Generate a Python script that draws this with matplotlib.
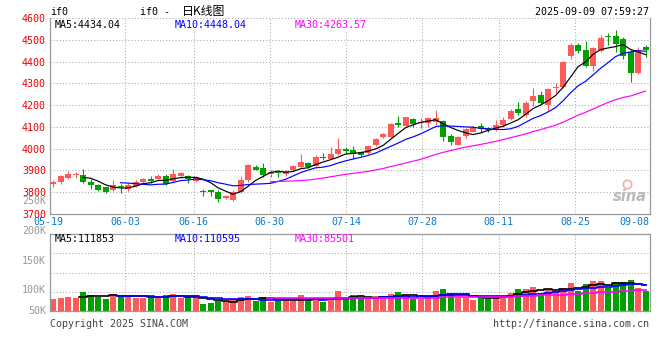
import numpy as np
import pandas as pd
import matplotlib
matplotlib.use("Agg")
import matplotlib.pyplot as plt
import matplotlib.transforms as mtransforms

# ---------------- data ----------------
opens = [3838, 3845, 3866, 3877, 3880, 3849, 3832, 3822, 3812, 3830,
         3815, 3831, 3847, 3861, 3862, 3876, 3850, 3873, 3875, 3850,
         3806, 3810, 3800, 3772, 3766, 3801, 3855, 3918, 3913, 3884,
         3895, 3886, 3900, 3915, 3936, 3922, 3964, 3954, 3977, 3997,
         3994, 3984, 3980, 4018, 4053, 4053, 4117, 4103, 4137, 4117,
         4118, 4122, 4129, 4060, 4018, 4060, 4079, 4104, 4094, 4087,
         4110, 4138, 4183, 4156, 4220, 4245, 4202, 4278, 4283, 4424,
         4476, 4454, 4381, 4447, 4518, 4518, 4504, 4446, 4347, 4468]
highs = [3857, 3878, 3898, 3895, 3908, 3860, 3838, 3823, 3856, 3838,
         3841, 3856, 3867, 3876, 3884, 3884, 3906, 3895, 3877, 3876,
         3813, 3812, 3811, 3789, 3811, 3876, 3929, 3926, 3935, 3900,
         3898, 3902, 3925, 3976, 3941, 3971, 3982, 4006, 4050, 4007,
         4013, 3991, 4017, 4051, 4074, 4117, 4150, 4147, 4140, 4140,
         4145, 4178, 4132, 4068, 4058, 4094, 4105, 4117, 4102, 4132,
         4144, 4181, 4216, 4219, 4280, 4265, 4278, 4304, 4402, 4484,
         4486, 4496, 4469, 4523, 4530, 4545, 4515, 4454, 4469, 4477]
lows = [3826, 3840, 3862, 3866, 3842, 3816, 3806, 3796, 3804, 3796,
        3808, 3826, 3838, 3841, 3857, 3834, 3845, 3864, 3841, 3845,
        3785, 3785, 3753, 3768, 3762, 3796, 3849, 3900, 3872, 3872,
        3869, 3875, 3896, 3910, 3910, 3918, 3948, 3951, 3971, 3982,
        3953, 3967, 3975, 4013, 4048, 4048, 4098, 4098, 4098, 4094,
        4102, 4109, 4037, 4017, 4016, 4048, 4078, 4076, 4079, 4083,
        4102, 4132, 4155, 4144, 4197, 4206, 4175, 4258, 4278, 4411,
        4438, 4377, 4358, 4446, 4477, 4446, 4411, 4308, 4343, 4423]
closes = [3849, 3875, 3886, 3884, 3845, 3832, 3809, 3801, 3833, 3823,
          3833, 3849, 3859, 3853, 3875, 3839, 3882, 3887, 3862, 3871,
          3799, 3803, 3768, 3785, 3800, 3856, 3925, 3904, 3877, 3892,
          3888, 3899, 3921, 3940, 3915, 3960, 3957, 3976, 3997, 3988,
          3976, 3972, 4012, 4047, 4068, 4113, 4110, 4144, 4114, 4124,
          4143, 4140, 4054, 4029, 4055, 4089, 4098, 4091, 4087, 4108,
          4131, 4173, 4166, 4211, 4242, 4212, 4273, 4285, 4400, 4476,
          4451, 4381, 4461, 4511, 4512, 4482, 4427, 4350, 4454, 4452]
volumes = [85900, 87000, 89800, 87000, 98100, 92500, 88600, 85900, 94200, 92500,
           89800, 88100, 87000, 87000, 89800, 92500, 94200, 87000, 91400, 89800,
           77500, 79700, 82500, 80300, 85900, 89800, 91400, 82500, 89800, 81400,
           84200, 82500, 82500, 92500, 82500, 87000, 81400, 88100, 99200, 84200,
           92500, 85900, 85900, 90900, 88100, 94200, 98100, 92500, 85900, 85900,
           89800, 99200, 102500, 92500, 88100, 87000, 84200, 89800, 85900, 91400,
           91400, 95900, 102500, 102500, 105900, 95900, 102500, 99200, 104800, 112500,
           99200, 110900, 115900, 115900, 103600, 114200, 114200, 117500, 104800, 99200]

tick_idx = [0, 10, 19, 29, 39, 49, 59, 69, 79]
tick_labels = ["05-19", "06-03", "06-16", "06-30", "07-14", "07-28",
               "08-11", "08-25", "09-08"]
price_ticks = [3700, 3800, 3900, 4000, 4100, 4200, 4300, 4400, 4500, 4600]
price_labels = [str(p) for p in price_ticks]
vol_ticks = [250000, 200000, 150000, 100000, 50000]
vol_labels = ["250K", "200K", "150K", "100K", "50K"]

# ---------------- style ----------------
RED = "#FF5A5A"
GREEN = "#00A000"
GRID = "#AAAAAA"
FRAME = "#999999"
MONO = "DejaVu Sans Mono"
FS = 7.2
dotted = (0, (1, 2))

W, H = 660, 360
fig = plt.figure(figsize=(6.6, 3.6), dpi=100)


def fx(px):
    return px / W


def fy(py):
    return 1 - py / H


ax = fig.add_axes([fx(50), fy(214), fx(649.5) - fx(50), fy(18.2) - fy(214)])
axv = fig.add_axes([fx(50), fy(311), fx(649.5) - fx(50), fy(234.3) - fy(311)])

x = np.arange(len(closes))
o = np.array(opens, float)
c = np.array(closes, float)
hi = np.array(highs, float)
lo = np.array(lows, float)
up = c >= o
cols = np.where(up, RED, GREEN)

XMIN, XMAX = -0.4, 79.53
# grid positions in sina layout (slightly wider date step than candle step)
grid_pos = [i * 1.0167 - 0.57 for i in tick_idx]

# ---------------- main panel ----------------
ax.set_xlim(XMIN, XMAX)
ax.set_ylim(3700, 4600)
for p in price_ticks[1:-1]:
    ax.axhline(p, color=GRID, lw=0.75, ls=dotted, zorder=0)
ax.axhline(4600, color=GRID, lw=0.75, ls=dotted, zorder=0, clip_on=False)
for gp in grid_pos:
    if XMIN < gp < XMAX:
        ax.axvline(gp, color=GRID, lw=0.75, ls=dotted, zorder=0)

ax.vlines(x, lo, hi, colors=cols, lw=0.8, zorder=2)
body = np.maximum(np.abs(c - o), 4)
ax.bar(x, body, bottom=np.minimum(o, c), width=0.8, color=cols,
       linewidth=0, zorder=3)

cs = pd.Series(c)
ax.plot(x, cs.rolling(5).mean(), color="black", lw=0.85, zorder=4)
ax.plot(x, cs.rolling(10).mean(), color="#0000FF", lw=0.85, zorder=4)
ax.plot(x, cs.rolling(30).mean(), color="#FF00FF", lw=0.85, zorder=4)

ax.set_yticks(price_ticks)
ax.set_yticklabels(price_labels, color="#EE0000", fontfamily=MONO, fontsize=FS)
ax.tick_params(axis="y", length=0, pad=3)
ax.set_xticks([])
for s in ["left", "right", "bottom"]:
    ax.spines[s].set_color(FRAME)
    ax.spines[s].set_linewidth(0.9)
ax.spines["top"].set_visible(False)

trans = mtransforms.blended_transform_factory(ax.transData, ax.transAxes)
yl = -8 / (214 - 18.2)
for gp, lab in zip(grid_pos, tick_labels):
    if gp > XMAX - 1:
        ax.text(XMAX, yl, lab, transform=trans, ha="right", va="center",
                color="#0A78D2", fontfamily=MONO, fontsize=FS, clip_on=False)
    else:
        ax.text(gp, yl, lab, transform=trans, ha="center", va="center",
                color="#0A78D2", fontfamily=MONO, fontsize=FS, clip_on=False)

# watermark
ax.text(0.968, 0.09, "sina", transform=ax.transAxes, ha="center", va="center",
        fontsize=10.5, fontweight="bold", style="italic", color="#B8B8B8",
        zorder=1)
ax.plot([0.963], [0.155], transform=ax.transAxes, marker="o", ms=6,
        mfc="none", mec="#F2B0B0", mew=1.3, zorder=1)

# ---------------- volume panel ----------------
VLO = 65800
VHI = 193700
axv.set_xlim(XMIN, XMAX)
axv.set_ylim(VLO, VHI)
for frac in [0.25, 0.5, 0.75]:
    axv.axhline(VHI - frac * (VHI - VLO), color=GRID, lw=0.75, ls=dotted,
                zorder=0)
for gp in grid_pos:
    if XMIN < gp < XMAX:
        axv.axvline(gp, color=GRID, lw=0.75, ls=dotted, zorder=0)
axv.bar(x, volumes, width=0.8, color=cols, linewidth=0, zorder=2)
vs = pd.Series(np.array(volumes, float))
axv.plot(x, vs.rolling(5).mean(), color="black", lw=1.2, drawstyle="steps-mid",
         zorder=4)
axv.plot(x, vs.rolling(10).mean(), color="#0000FF", lw=1.2,
         drawstyle="steps-mid", zorder=4)
axv.plot(x, vs.rolling(30).mean(), color="#FF00FF", lw=1.2,
         drawstyle="steps-mid", zorder=4)
axv.set_xticks([])
axv.set_yticks([])
for s in ["left", "right", "bottom", "top"]:
    axv.spines[s].set_color(FRAME)
    axv.spines[s].set_linewidth(0.9)
vtrans = mtransforms.blended_transform_factory(axv.transAxes, axv.transData)
for v, lab in zip(vol_ticks, vol_labels):
    axv.text(-4 / 599.5, max(v, VLO), lab, transform=vtrans, ha="right",
             va="center", color="#999999", fontfamily=MONO, fontsize=FS,
             clip_on=False)

# ---------------- header texts ----------------
fig.text(fx(50), fy(12), "if0", ha="left", va="center", fontfamily=MONO,
         fontsize=FS, color="black")
fig.text(fx(140), fy(12), "if0 -", ha="left", va="center", fontfamily=MONO,
         fontsize=FS, color="black")
fig.text(fx(182), fy(11.5), "日K线图", ha="left", va="center",
         fontfamily="Noto Sans CJK SC", fontsize=8.6, color="black")
fig.text(fx(649), fy(12), "2025-09-09 07:59:27", ha="right", va="center",
         fontfamily=MONO, fontsize=FS, color="black")

hdr = [("MA5:4434.04", "black", 55), ("MA10:4448.04", "#0000FF", 175),
       ("MA30:4263.57", "#FF00FF", 295)]
for t, col, px in hdr:
    fig.text(fx(px), fy(24.5), t, ha="left", va="center", fontfamily=MONO,
             fontsize=FS, color=col,
             bbox=dict(facecolor="white", edgecolor="none", pad=0.3))
vhdr = [("MA5:111853", "black", 55), ("MA10:110595", "#0000FF", 175),
        ("MA30:85501", "#FF00FF", 295)]
for t, col, px in vhdr:
    fig.text(fx(px), fy(239.5), t, ha="left", va="center", fontfamily=MONO,
             fontsize=FS, color=col)

fig.text(fx(50), fy(324), "Copyright 2025 SINA.COM", ha="left", va="center",
         fontfamily=MONO, fontsize=FS, color="#444444")
fig.text(fx(649), fy(324), "http://finance.sina.com.cn", ha="right",
         va="center", fontfamily=MONO, fontsize=FS, color="#444444")

fig.savefig("out.png", dpi=100, facecolor="white")
